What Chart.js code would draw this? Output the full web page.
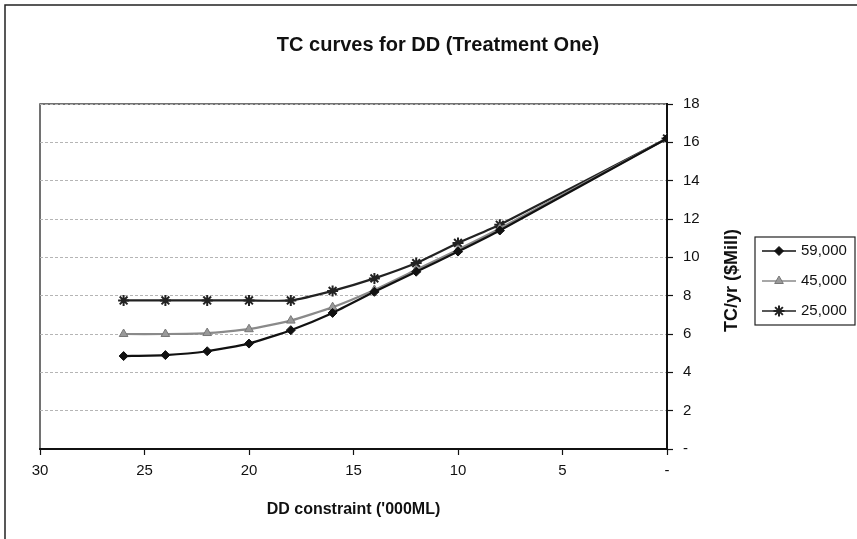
<!DOCTYPE html>
<html>
<head>
<meta charset="utf-8">
<script src="https://cdn.jsdelivr.net/npm/chart.js@4.4.0/dist/chart.umd.min.js"></script>
<style>
html,body{margin:0;padding:0;background:#fff;}
#wrap{position:relative;width:857px;height:539px;}
</style>
</head>
<body>
<div id="wrap"><canvas id="c" width="857" height="539"></canvas></div>
<script>
// ---- data ----
const ddConstraint = [26, 24, 22, 20, 18, 16, 14, 12, 10, 8, 0];
const series59000 = [4.85, 4.9, 5.1, 5.5, 6.2, 7.1, 8.2, 9.25, 10.3, 11.4, 16.2];
const series45000 = [6.0, 6.0, 6.05, 6.25, 6.7, 7.4, 8.3, 9.35, 10.4, 11.5, 16.2];
const series25000 = [7.75, 7.75, 7.75, 7.75, 7.75, 8.25, 8.9, 9.7, 10.75, 11.7, 16.2];
const seriesLabels = ['59,000', '45,000', '25,000'];
const chartTitle = 'TC curves for DD (Treatment One)';
const xTitle = "DD constraint ('000ML)";
const yTitle = 'TC/yr ($Mill)';

const FONT = "'Liberation Sans', Arial, sans-serif";

function pts(ys){ return ddConstraint.map((x,i)=>({x:x, y:ys[i]})); }

const frame = {
  id:'frame',
  beforeDraw(chart){
    const ctx = chart.ctx;
    ctx.save();
    ctx.strokeStyle = '#222';
    ctx.lineWidth = 1.5;
    ctx.beginPath();
    ctx.moveTo(5, 539); ctx.lineTo(5, 5); ctx.lineTo(857, 5);
    ctx.stroke();
    const a = chart.chartArea;
    ctx.strokeStyle = '#444';
    ctx.lineWidth = 1.5;
    ctx.beginPath();
    ctx.moveTo(a.left, a.bottom); ctx.lineTo(a.left, a.top); ctx.lineTo(a.right, a.top);
    ctx.stroke();
    ctx.restore();
  },
  afterDraw(chart){
    const ctx = chart.ctx;
    const ys = chart.scales.y;
    // chart title
    ctx.save();
    ctx.font = 'bold 20px ' + FONT;
    ctx.fillStyle = '#111';
    ctx.textAlign = 'center';
    ctx.textBaseline = 'middle';
    ctx.fillText(chartTitle, 438, 45);
    ctx.restore();

    ctx.save();
    // y title rotated
    ctx.font = 'bold 18px ' + FONT;
    ctx.fillStyle = '#111';
    ctx.translate(ys.left + 65, (ys.top + ys.bottom)/2 + 4);
    ctx.rotate(-Math.PI/2);
    ctx.textAlign = 'center';
    ctx.textBaseline = 'middle';
    ctx.fillText(yTitle, 0, 0);
    ctx.restore();

    // legend
    ctx.save();
    const bx = 755, by = 237, bw = 100, bh = 88;
    ctx.strokeStyle = '#222';
    ctx.lineWidth = 1.2;
    ctx.strokeRect(bx, by, bw, bh);
    const rows = [251, 281, 311];
    chart.data.datasets.forEach((ds, i) => {
      const y = rows[i];
      ctx.strokeStyle = ds.borderColor;
      ctx.lineWidth = 1.5;
      ctx.beginPath(); ctx.moveTo(762, y); ctx.lineTo(796, y); ctx.stroke();
      ctx.fillStyle = ds.pointBackgroundColor;
      ctx.strokeStyle = ds.pointBorderColor;
      ctx.lineWidth = ds.pointBorderWidth;
      Chart.helpers.drawPoint(ctx, {pointStyle: ds.pointStyle, radius: ds.pointRadius, rotation: 0, borderWidth: ds.pointBorderWidth}, 779, y);
      ctx.fillStyle = '#111';
      ctx.font = '15px ' + FONT;
      ctx.textAlign = 'left';
      ctx.textBaseline = 'middle';
      ctx.fillText(ds.label, 801, y);
    });
    ctx.restore();
  }
};

new Chart(document.getElementById('c'), {
  type: 'line',
  data: {
    datasets: [
      { label: seriesLabels[0], data: pts(series59000), borderColor: '#111', borderWidth: 2.2,
        pointStyle: 'rectRot', pointRadius: 4.5, pointBackgroundColor: '#111', pointBorderColor: '#111', pointBorderWidth: 1 },
      { label: seriesLabels[1], data: pts(series45000), borderColor: '#8a8a8a', borderWidth: 2.2,
        pointStyle: 'triangle', pointRadius: 5, pointBackgroundColor: '#999', pointBorderColor: '#777', pointBorderWidth: 1 },
      { label: seriesLabels[2], data: pts(series25000), borderColor: '#222', borderWidth: 2.2,
        pointStyle: 'star', pointRadius: 5.5, pointBackgroundColor: '#222', pointBorderColor: '#222', pointBorderWidth: 2 }
    ]
  },
  options: {
    responsive: false,
    animation: false,
    tension: 0.15,
    layout: { padding: { left: 40, right: 0, top: 104, bottom: 0 } },
    plugins: {
      legend: { display: false },
      tooltip: { enabled: false },
      title: { display: false }
    },
    scales: {
      x: {
        type: 'linear', reverse: true, min: 0, max: 30,
        afterFit(s){ s.height = 90; },
        ticks: { stepSize: 5, color: '#111', padding: 7, font: { family: FONT, size: 15 },
          callback: v => v === 0 ? '-' : String(v) },
        grid: { drawOnChartArea: false, drawTicks: true, tickLength: 6, tickColor: '#111', tickWidth: 1.2 },
        border: { display: true, color: '#111', width: 2 },
        title: { display: true, text: xTitle, color: '#111', font: { family: FONT, size: 16, weight: 'bold' },
          padding: { top: 0, bottom: 20 } }
      },
      y: {
        type: 'linear', position: 'right', min: 0, max: 18,
        afterFit(s){ s.width = 190; },
        ticks: { stepSize: 2, color: '#111', padding: 10, font: { family: FONT, size: 15 },
          callback: v => v === 0 ? '-' : String(v) },
        grid: { color: '#b5b5b5', lineWidth: 1, drawTicks: true, tickLength: 6, tickColor: '#111', tickWidth: 1.2 },
        border: { display: true, color: '#111', width: 2, dash: [3, 2] }
      }
    }
  },
  plugins: [frame]
});
</script>
</body>
</html>
